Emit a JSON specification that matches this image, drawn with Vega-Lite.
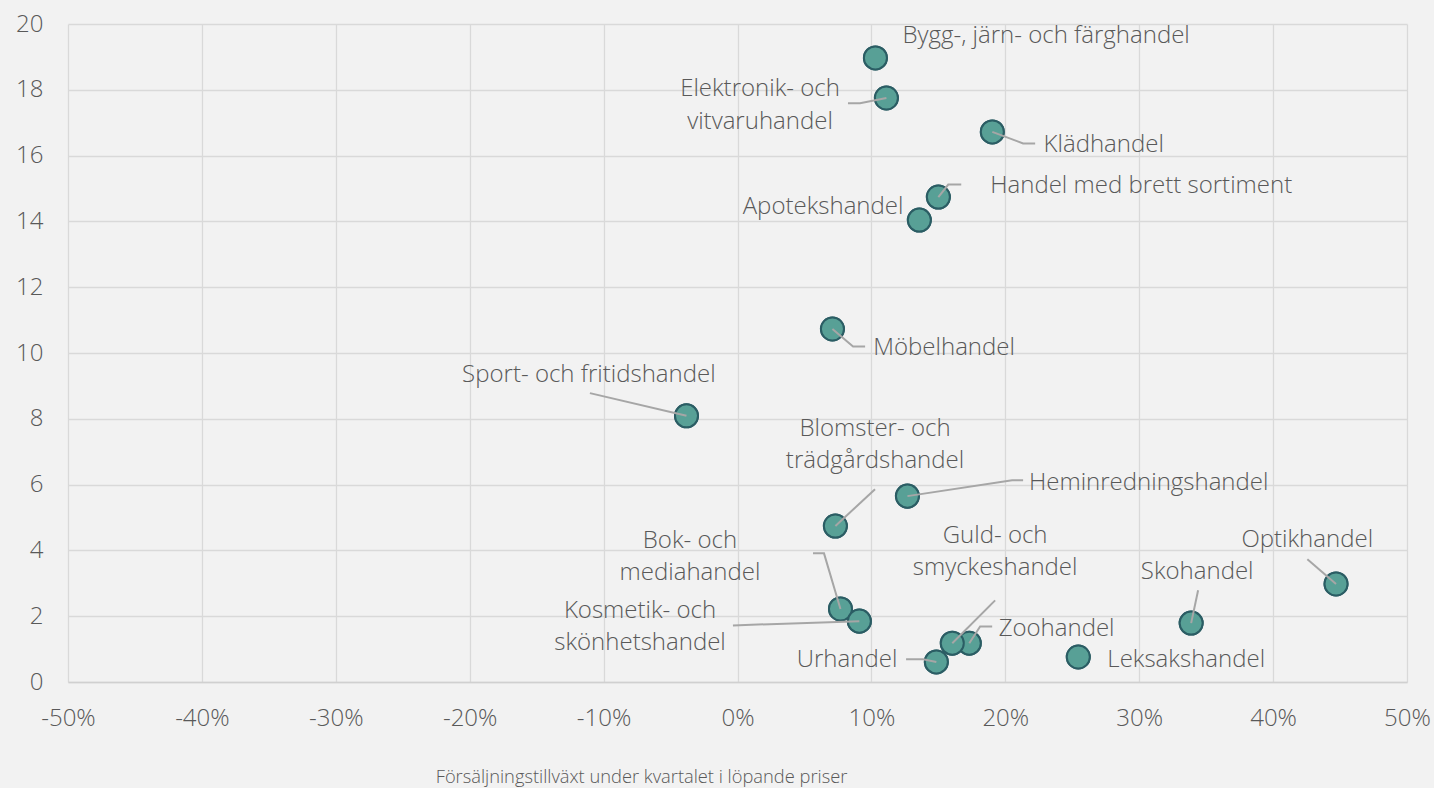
{
  "$schema": "https://vega.github.io/schema/vega-lite/v6.json",
  "width": 1339,
  "height": 658,
  "autosize": {"type": "none"},
  "padding": {"left": 68, "top": 24, "right": 27, "bottom": 106},
  "background": "#f2f2f2",
  "config": {"view": {"stroke": null}, "font": "Open Sans"},
  "datasets": {
    "points": [
      {"name": "Bygg-, järn- och färghandel", "x": 10.30, "y": 18.97},
      {"name": "Elektronik- och vitvaruhandel", "x": 11.12, "y": 17.75},
      {"name": "Klädhandel", "x": 19.03, "y": 16.72},
      {"name": "Handel med brett sortiment", "x": 15.0, "y": 14.74},
      {"name": "Apotekshandel", "x": 13.58, "y": 14.04},
      {"name": "Möbelhandel", "x": 7.09, "y": 10.73},
      {"name": "Sport- och fritidshandel", "x": -3.81, "y": 8.09},
      {"name": "Blomster- och trädgårdshandel", "x": 7.31, "y": 4.74},
      {"name": "Heminredningshandel", "x": 12.69, "y": 5.65},
      {"name": "Bok- och mediahandel", "x": 7.69, "y": 2.22},
      {"name": "Kosmetik- och skönhetshandel", "x": 9.10, "y": 1.85},
      {"name": "Urhandel", "x": 14.85, "y": 0.61},
      {"name": "Zoohandel", "x": 17.31, "y": 1.18},
      {"name": "Guld- och smyckeshandel", "x": 16.04, "y": 1.18},
      {"name": "Leksakshandel", "x": 25.45, "y": 0.76},
      {"name": "Skohandel", "x": 33.88, "y": 1.79},
      {"name": "Optikhandel", "x": 44.70, "y": 2.98}
    ],
    "labels": [
      {"text": "Bygg-, järn- och färghandel", "x": 23.05, "y": 19.41},
      {"text": "Elektronik- och", "x": 1.68, "y": 17.80},
      {"text": "vitvaruhandel", "x": 1.68, "y": 16.80},
      {"text": "Klädhandel", "x": 27.35, "y": 16.10},
      {"text": "Handel med brett sortiment", "x": 30.15, "y": 14.85},
      {"text": "Apotekshandel", "x": 6.39, "y": 14.22},
      {"text": "Möbelhandel", "x": 15.43, "y": 9.93},
      {"text": "Sport- och fritidshandel", "x": -11.10, "y": 9.11},
      {"text": "Blomster- och", "x": 10.27, "y": 7.47},
      {"text": "trädgårdshandel", "x": 10.27, "y": 6.50},
      {"text": "Heminredningshandel", "x": 30.71, "y": 5.83},
      {"text": "Bok- och", "x": -3.55, "y": 4.06},
      {"text": "mediahandel", "x": -3.55, "y": 3.09},
      {"text": "Kosmetik- och", "x": -7.28, "y": 1.94},
      {"text": "skönhetshandel", "x": -7.28, "y": 0.96},
      {"text": "Guld- och", "x": 19.24, "y": 4.22},
      {"text": "smyckeshandel", "x": 19.24, "y": 3.24},
      {"text": "Zoohandel", "x": 23.83, "y": 1.39},
      {"text": "Urhandel", "x": 8.18, "y": 0.45},
      {"text": "Leksakshandel", "x": 33.51, "y": 0.45},
      {"text": "Skohandel", "x": 34.33, "y": 3.12},
      {"text": "Optikhandel", "x": 42.55, "y": 4.09}
    ],
    "leaders": [
      {"name": "Elektronik", "ord": 1, "x": 8.25, "y": 17.59},
      {"name": "Elektronik", "ord": 2, "x": 9.15, "y": 17.59},
      {"name": "Elektronik", "ord": 3, "x": 11.12, "y": 17.75},
      {"name": "Kläd", "ord": 1, "x": 19.03, "y": 16.72},
      {"name": "Kläd", "ord": 2, "x": 21.33, "y": 16.37},
      {"name": "Kläd", "ord": 3, "x": 22.23, "y": 16.37},
      {"name": "Brett", "ord": 1, "x": 15.0, "y": 14.74},
      {"name": "Brett", "ord": 2, "x": 15.74, "y": 15.12},
      {"name": "Brett", "ord": 3, "x": 16.71, "y": 15.12},
      {"name": "Möbel", "ord": 1, "x": 7.09, "y": 10.73},
      {"name": "Möbel", "ord": 2, "x": 8.63, "y": 10.20},
      {"name": "Möbel", "ord": 3, "x": 9.53, "y": 10.20},
      {"name": "Sport", "ord": 1, "x": -11.02, "y": 8.78},
      {"name": "Sport", "ord": 2, "x": -3.81, "y": 8.09},
      {"name": "Blomster", "ord": 1, "x": 10.27, "y": 5.86},
      {"name": "Blomster", "ord": 2, "x": 7.31, "y": 4.74},
      {"name": "Hem", "ord": 1, "x": 12.69, "y": 5.65},
      {"name": "Hem", "ord": 2, "x": 20.51, "y": 6.13},
      {"name": "Hem", "ord": 3, "x": 21.33, "y": 6.13},
      {"name": "Bok", "ord": 1, "x": 5.64, "y": 3.91},
      {"name": "Bok", "ord": 2, "x": 6.46, "y": 3.91},
      {"name": "Bok", "ord": 3, "x": 7.69, "y": 2.22},
      {"name": "Kosmetik", "ord": 1, "x": -0.34, "y": 1.72},
      {"name": "Kosmetik", "ord": 2, "x": 9.10, "y": 1.85},
      {"name": "Guld", "ord": 1, "x": 19.24, "y": 2.48},
      {"name": "Guld", "ord": 2, "x": 16.04, "y": 1.18},
      {"name": "Zoo", "ord": 1, "x": 19.02, "y": 1.69},
      {"name": "Zoo", "ord": 2, "x": 18.12, "y": 1.69},
      {"name": "Zoo", "ord": 3, "x": 17.31, "y": 1.18},
      {"name": "Ur", "ord": 1, "x": 12.59, "y": 0.69},
      {"name": "Ur", "ord": 2, "x": 13.86, "y": 0.69},
      {"name": "Ur", "ord": 3, "x": 14.85, "y": 0.61},
      {"name": "Sko", "ord": 1, "x": 34.40, "y": 2.79},
      {"name": "Sko", "ord": 2, "x": 33.88, "y": 1.79},
      {"name": "Optik", "ord": 1, "x": 42.56, "y": 3.73},
      {"name": "Optik", "ord": 2, "x": 44.70, "y": 2.98}
    ]
  },
  "layer": [
    {
      "data": {"name": "points"},
      "mark": {"type": "circle", "size": 530, "fill": "#58a096", "stroke": "#2b5d64", "strokeWidth": 2, "opacity": 1},
      "encoding": {
        "x": {
          "field": "x", "type": "quantitative",
          "scale": {"domain": [-50, 50], "nice": false, "zero": false},
          "axis": {
            "values": [-50, -40, -30, -20, -10, 0, 10, 20, 30, 40, 50],
            "labelExpr": "datum.value + '%'",
            "title": "Försäljningstillväxt under kvartalet i löpande priser",
            "titleFont": "Open Sans",
            "titleFontSize": 18.3,
            "titleFontWeight": 350,
            "titleColor": "#595959",
            "titleX": 573,
            "titleY": 100,
            "titleAlign": "center",
            "titleBaseline": "alphabetic",
            "labelFontSize": 24,
            "labelFontWeight": 350,
            "labelColor": "#595959",
            "labelPadding": 24,
            "labelFlush": false,
            "ticks": false,
            "domainColor": "#d0d0d0",
            "domainWidth": 1.5,
            "gridColor": "#d9d9d9",
            "gridWidth": 1.3
          }
        },
        "y": {
          "field": "y", "type": "quantitative",
          "scale": {"domain": [0, 20], "nice": false},
          "axis": {
            "values": [0, 2, 4, 6, 8, 10, 12, 14, 16, 18, 20],
            "title": null,
            "labelFontSize": 24,
            "labelFontWeight": 350,
            "labelColor": "#595959",
            "labelPadding": 25,
            "labelFlush": false,
            "ticks": false,
            "domain": false,
            "gridColor": "#d9d9d9",
            "gridWidth": 1.3
          }
        }
      }
    },
    {
      "mark": {"type": "rule", "color": "#000000", "strokeWidth": 2, "strokeDash": [10, 5]},
      "encoding": {"x": {"datum": 0, "type": "quantitative"}}
    },
    {
      "data": {"name": "points"},
      "mark": {"type": "circle", "size": 530, "fill": "#58a096", "stroke": "#2b5d64", "strokeWidth": 2, "opacity": 1},
      "encoding": {
        "x": {"field": "x", "type": "quantitative"},
        "y": {"field": "y", "type": "quantitative"}
      }
    },
    {
      "data": {"name": "leaders"},
      "mark": {"type": "line", "color": "#a6a6a6", "strokeWidth": 2},
      "encoding": {
        "x": {"field": "x", "type": "quantitative"},
        "y": {"field": "y", "type": "quantitative"},
        "detail": {"field": "name"},
        "order": {"field": "ord", "type": "quantitative"}
      }
    },
    {
      "data": {"name": "labels"},
      "mark": {"type": "text", "fontSize": 24, "fontWeight": 350, "color": "#595959", "align": "center", "baseline": "alphabetic"},
      "encoding": {
        "x": {"field": "x", "type": "quantitative"},
        "y": {"field": "y", "type": "quantitative"},
        "text": {"field": "text"}
      }
    }
  ]
}
